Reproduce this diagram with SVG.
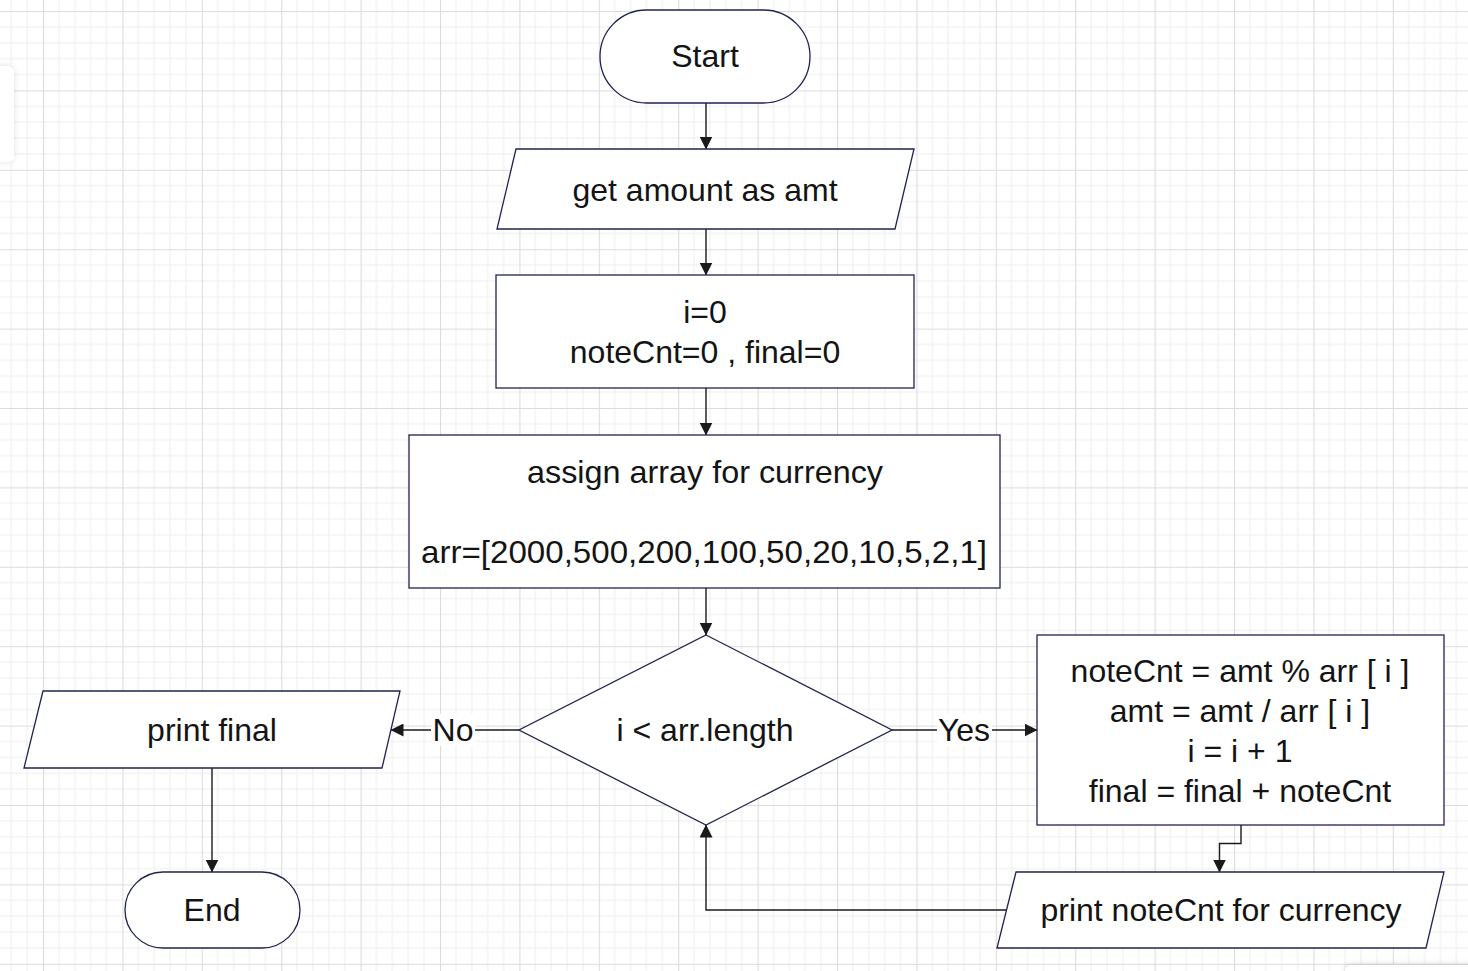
<svg xmlns="http://www.w3.org/2000/svg" width="1468" height="971" viewBox="0 0 1468 971">
<defs>
<pattern id="grid" patternUnits="userSpaceOnUse" x="43" y="11" width="79.4" height="79.4">
<path d="M15.88 0V79.4M31.76 0V79.4M47.64 0V79.4M63.52 0V79.4M0 15.88H79.4M0 31.76H79.4M0 47.64H79.4M0 63.52H79.4" stroke="#eeeeee" stroke-width="1" fill="none"/>
<path d="M0.5 0V79.4M0 0.5H79.4" stroke="#dcdcdc" stroke-width="1.2" fill="none"/>
</pattern>
<marker id="ah" viewBox="0 0 13 13" refX="12.5" refY="6.5" markerWidth="13" markerHeight="13" markerUnits="userSpaceOnUse" orient="auto">
<path d="M0 0L13 6.5L0 13z" fill="#1a1a1a"/>
</marker>
<filter id="sh" x="-50%" y="-50%" width="200%" height="200%">
<feGaussianBlur stdDeviation="3"/>
</filter>
</defs>
<style>
.shape{fill:#ffffff;stroke:#1f2350;stroke-width:1.3}
.t{font-family:"Liberation Sans",Arial,sans-serif;font-size:32px;fill:#141414;text-anchor:middle}
.edge{fill:none;stroke:#1a1a1a;stroke-width:1.4;marker-end:url(#ah)}
.lbl{fill:#ffffff}
</style>
<rect width="1468" height="971" fill="#ffffff"/>
<rect width="1468" height="971" fill="url(#grid)"/>
<g id="ui-artifacts">
<rect x="-12" y="66" width="26" height="96" rx="6" fill="#000" opacity="0.12" filter="url(#sh)"/>
<rect x="-12" y="66" width="26" height="96" rx="6" fill="#ffffff"/>
<rect x="1345" y="964" width="140" height="20" rx="6" fill="#000" opacity="0.12" filter="url(#sh)"/>
<rect x="1345" y="965" width="140" height="20" rx="6" fill="#ffffff"/>
</g>
<g id="connectors">
<path class="edge" d="M706 103V149"/>
<path class="edge" d="M706 229V275"/>
<path class="edge" d="M706 388V435"/>
<path class="edge" d="M706 588V635"/>
<path class="edge" d="M519 730H391"/>
<path class="edge" d="M892 730H1037"/>
<path class="edge" d="M1241 825V843.5H1219.5V872"/>
<path class="edge" d="M1006 910H706V825"/>
<path class="edge" d="M212 768V872"/>
<rect class="lbl" x="431" y="714" width="44" height="32"/>
<text class="t" x="453" y="741">No</text>
<rect class="lbl" x="937" y="714" width="55" height="32"/>
<text class="t" x="964" y="741">Yes</text>
</g>
<g id="start">
<rect class="shape" x="600" y="10" width="210" height="93" rx="46.5"/>
<text class="t" x="705" y="67">Start</text>
</g>
<g id="get-amount">
<polygon class="shape" points="516,149 914,149 895,229 497,229"/>
<text class="t" x="705" y="201">get amount as amt</text>
</g>
<g id="init">
<rect class="shape" x="496" y="275" width="418" height="113"/>
<text class="t" x="705" y="323">i=0</text>
<text class="t" x="705" y="363">noteCnt=0 , final=0</text>
</g>
<g id="assign">
<rect class="shape" x="409" y="435" width="591" height="153"/>
<text class="t" x="705" y="483" textLength="356" lengthAdjust="spacingAndGlyphs">assign array for currency</text>
<text class="t" x="704" y="563" textLength="566" lengthAdjust="spacingAndGlyphs">arr=[2000,500,200,100,50,20,10,5,2,1]</text>
</g>
<g id="decision">
<polygon class="shape" points="706,635 892,730 706,825 519,730"/>
<text class="t" x="705" y="741">i &lt; arr.length</text>
</g>
<g id="compute">
<rect class="shape" x="1037" y="635" width="407" height="190"/>
<text class="t" x="1240" y="682">noteCnt = amt % arr [ i ]</text>
<text class="t" x="1240" y="722">amt = amt / arr [ i ]</text>
<text class="t" x="1240" y="762">i = i + 1</text>
<text class="t" x="1240" y="802">final = final + noteCnt</text>
</g>
<g id="print-notecnt">
<polygon class="shape" points="1016,872 1444,872 1426,948 997,948"/>
<text class="t" x="1221" y="921">print noteCnt for currency</text>
</g>
<g id="print-final">
<polygon class="shape" points="43,691 400,691 382,768 24,768"/>
<text class="t" x="212" y="741">print final</text>
</g>
<g id="end">
<rect class="shape" x="125" y="872" width="175" height="76" rx="38"/>
<text class="t" x="212" y="921">End</text>
</g>
</svg>
